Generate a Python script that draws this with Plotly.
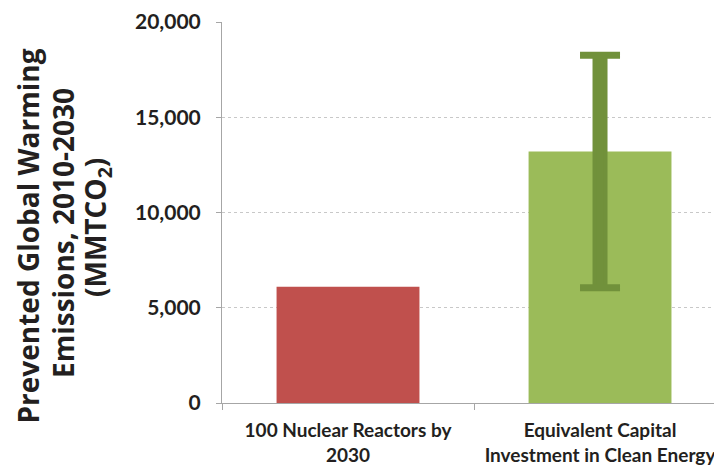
import plotly.graph_objects as go

categories = ["100 Nuclear Reactors by<br>2030", "Equivalent Capital<br>Investment in Clean Energy"]
values = [6100, 13200]
bar_colors = ["#c0504d", "#9bbb59"]
err_upper = [None, 5050]
err_lower = [None, 7150]
y_ticks = [0, 5000, 10000, 15000, 20000]
y_tick_labels = ["0", "5,000", "10,000", "15,000", "20,000"]
title_lines = ["Prevented Global Warming", "Emissions, 2010-2030", "(MMTCO<sub>2</sub>)"]

FONT = "Lato"
TFONT = "Open Sans"
TXT = "#231f20"

# page offset: browser body has an 8px margin
OFF = 8
PX0, PY0, PW, PH = 222, 403, 500, 381  # plot area in page pixels

fig = go.Figure()
fig.add_trace(go.Bar(x=categories, y=values, marker=dict(color=bar_colors, line=dict(width=0)),
                     width=0.567, hoverinfo="skip"))
# error bar stem
fig.add_trace(go.Scatter(x=[categories[1]], y=[values[1]], mode="markers", marker=dict(size=1, opacity=0),
                         error_y=dict(type="data", symmetric=False, array=[err_upper[1]], arrayminus=[err_lower[1]],
                                      color="#71913b", thickness=15, width=0), hoverinfo="skip"))
# error bar caps
fig.add_trace(go.Scatter(x=[categories[1]], y=[values[1]], mode="markers", marker=dict(size=1, opacity=0),
                         error_y=dict(type="data", symmetric=False, array=[err_upper[1]], arrayminus=[err_lower[1]],
                                      color="#71913b", thickness=7, width=20), hoverinfo="skip"))

title_x = [27.5, 63, 97]
title_y = [236, 233, 228]
annotations = []
for line, px, py in zip(title_lines, title_x, title_y):
    annotations.append(dict(
        text=line, xref="paper", yref="paper",
        x=(px - PX0) / PW, y=(PY0 - py) / PH,
        xanchor="center", yanchor="middle", textangle=-90, showarrow=False,
        font=dict(family=TFONT, size=28, color=TXT, weight="bold")))

fig.update_layout(
    width=722 - OFF, height=466 - OFF,
    margin=dict(l=PX0 - OFF, r=0, t=22 - OFF, b=63),
    paper_bgcolor="white", plot_bgcolor="white",
    showlegend=False,
    font=dict(family=FONT, color=TXT),
    xaxis=dict(type="category", range=[-0.5, 1.484], showgrid=False, automargin=False,
               showline=True, linecolor="#a6a6a6", linewidth=1,
               ticks="outside", tickson="boundaries", ticklen=6, tickcolor="#a6a6a6",
               ticklabelstandoff=10,
               tickfont=dict(family=FONT, size=19, color=TXT, weight="bold")),
    yaxis=dict(range=[0, 20000], tickvals=y_ticks, ticktext=y_tick_labels, automargin=False,
               showgrid=True, gridcolor="#c8c8c8", griddash="dot", gridwidth=1,
               zeroline=False,
               showline=True, linecolor="#a6a6a6", linewidth=1,
               ticks="outside", ticklen=5, tickcolor="#a6a6a6",
               ticklabelstandoff=11,
               tickfont=dict(family=FONT, size=21, color=TXT, weight="bold")),
    annotations=annotations,
)

fig.write_html("out.html")
